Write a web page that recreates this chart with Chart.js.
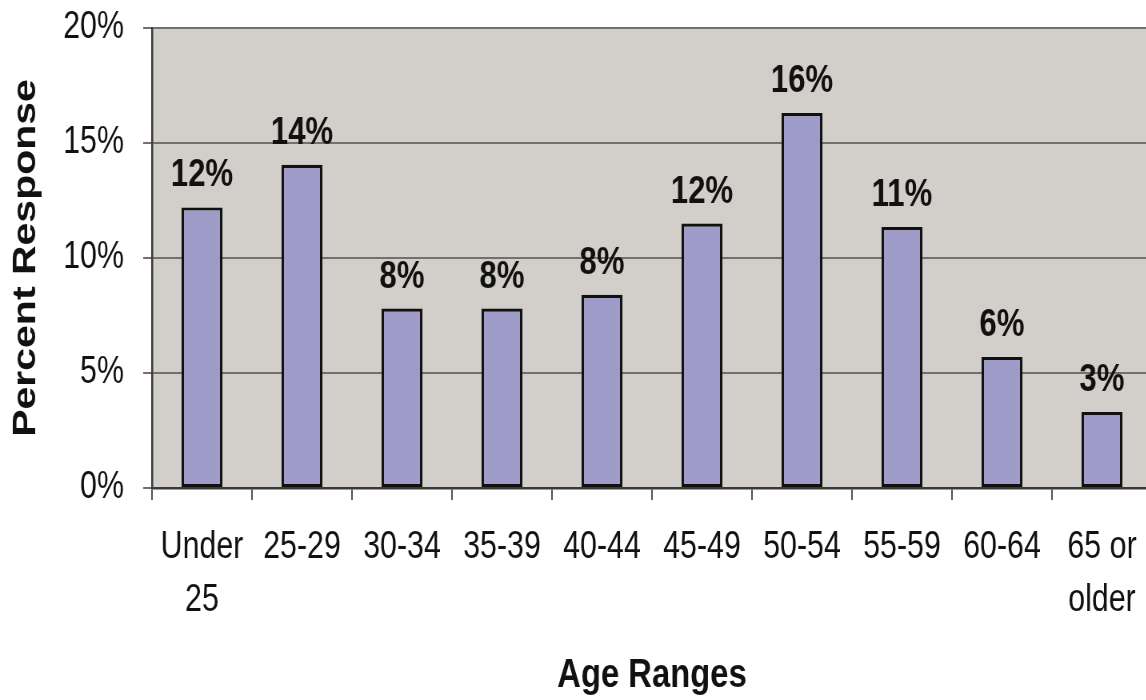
<!DOCTYPE html>
<html>
<head>
<meta charset="utf-8">
<script src="https://cdn.jsdelivr.net/npm/chart.js@4.4.1/dist/chart.umd.min.js"></script>
<style>
  html, body { margin: 0; padding: 0; background: #ffffff; overflow: hidden; }
  /* the chart is drawn wide and condensed horizontally, giving narrow lettering */
  #wrap { width: 1450px; height: 700px; transform: scaleX(0.8); transform-origin: 0 0; }
</style>
</head>
<body>
<div id="wrap"><canvas id="chart" width="1450" height="700"></canvas></div>
<script>
// Survey responses by age range (percent of respondents)
const ageRanges = [['Under', '25'], '25-29', '30-34', '35-39', '40-44', '45-49', '50-54', '55-59', '60-64', ['65 or', 'older']];
const percentResponse = [12.2, 14.05, 7.8, 7.8, 8.4, 11.5, 16.3, 11.35, 5.7, 3.3];
const yTickValues = [0, 5, 10, 15, 20];

const FONT = '"Liberation Sans", Arial, Helvetica, sans-serif';

// Gray plotting area behind the bars
const plotBackground = {
  id: 'plotBackground',
  beforeDraw(chart) {
    const { ctx, chartArea: a } = chart;
    ctx.save();
    ctx.fillStyle = '#d2cec9';
    ctx.fillRect(a.left, a.top, a.right - a.left, a.bottom - a.top);
    ctx.restore();
  }
};

// Percent value printed above each bar
const valueLabels = {
  id: 'valueLabels',
  afterDatasetsDraw(chart) {
    const { ctx } = chart;
    const meta = chart.getDatasetMeta(0);
    const values = chart.data.datasets[0].data;
    ctx.save();
    ctx.font = 'bold 39px ' + FONT;
    ctx.fillStyle = '#111111';
    ctx.textAlign = 'center';
    ctx.textBaseline = 'alphabetic';
    meta.data.forEach((bar, i) => {
      ctx.fillText(Math.round(values[i]) + '%', bar.x, bar.y - 21);
    });
    ctx.restore();
  }
};

new Chart(document.getElementById('chart'), {
  type: 'bar',
  data: {
    labels: ageRanges,
    datasets: [{
      data: percentResponse,
      backgroundColor: '#9f9bc9',
      borderColor: '#111111',
      borderWidth: 3.2,
      borderSkipped: false,
      barPercentage: 0.41,
      categoryPercentage: 1.0
    }]
  },
  options: {
    responsive: false,
    devicePixelRatio: 1,
    animation: false,
    layout: { padding: { left: 8, top: 28, right: 10, bottom: 0 } },
    plugins: {
      legend: { display: false },
      tooltip: { enabled: false }
    },
    scales: {
      x: {
        offset: true,
        grid: {
          display: true,
          drawOnChartArea: false,
          offset: true,
          tickLength: 12,
          color: '#555555',
          lineWidth: 2
        },
        border: { display: true, color: '#3a3a3a', width: 2.5 },
        ticks: {
          color: '#111111',
          font: { family: FONT, size: 38, lineHeight: 1.4 },
          padding: 21,
          maxRotation: 0,
          autoSkip: false
        },
        title: {
          display: true,
          text: 'Age Ranges',
          color: '#111111',
          font: { family: FONT, size: 41, weight: 'bold', lineHeight: 1.2 },
          padding: { top: 0, bottom: 0 }
        },
        afterFit(scale) { scale.height = 212; }
      },
      y: {
        min: 0,
        max: 20,
        afterBuildTicks(scale) { scale.ticks = yTickValues.map(v => ({ value: v })); },
        grid: {
          color: '#74716d',
          lineWidth: 2,
          tickLength: 11,
          drawTicks: true
        },
        border: { display: true, color: '#3a3a3a', width: 2.5 },
        ticks: {
          color: '#111111',
          font: { family: FONT, size: 38 },
          padding: 24,
          callback: v => v + '%'
        },
        title: {
          display: true,
          text: 'Percent Response',
          color: '#111111',
          font: { family: FONT, size: 41, weight: 'bold', lineHeight: 1.2 },
          padding: { top: 0, bottom: 0 }
        },
        afterFit(scale) {
          scale.width = 182;
          // the top tick label may sit in the outer margin
          scale.paddingTop = 0;
          scale.paddingBottom = 0;
        }
      }
    }
  },
  plugins: [plotBackground, valueLabels]
});
</script>
</body>
</html>
